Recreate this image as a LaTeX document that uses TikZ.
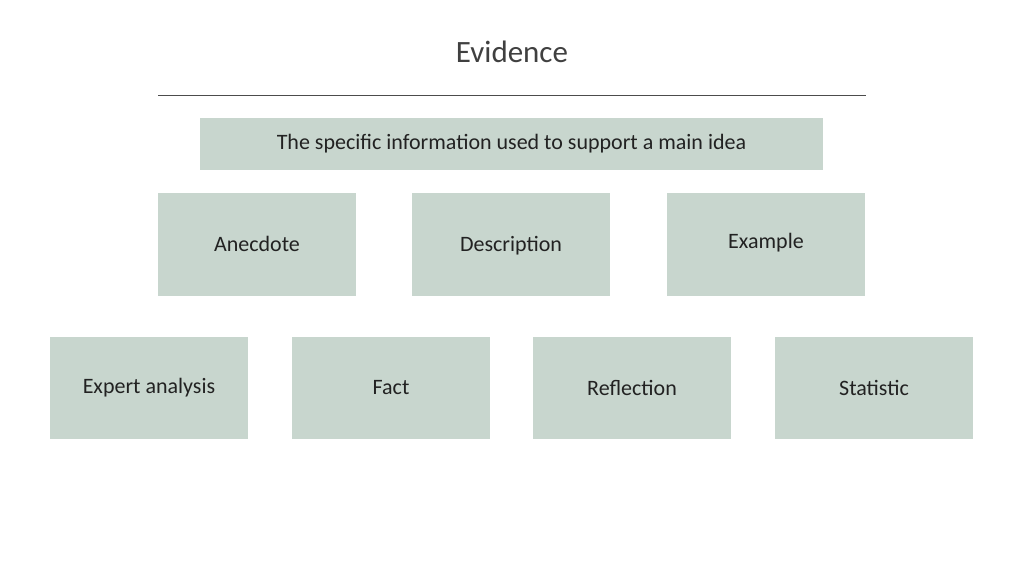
\documentclass[tikz,border=0pt]{standalone}
\usepackage{fontspec}
\setmainfont{Carlito}
\newfontfamily\titlefont{Open Sans Light}
\definecolor{boxc}{HTML}{C8D6CE}
\definecolor{txt}{HTML}{222222}
\begin{document}
\begin{tikzpicture}[x=1pt,y=-1pt,
  bx/.style={fill=boxc,draw=none,inner sep=0pt,text=txt,font=\fontsize{22}{26}\selectfont}]
\useasboundingbox (0,0) rectangle (1024,576);
\node[text=black!75,font=\fontsize{31}{36}\selectfont] (title) at (512,52) {Evidence};
\coordinate (la) at (158,95); \coordinate (lb) at (866,95);
\draw[black!70,line width=0.8pt] (la) -- (lb);
\node[bx,minimum width=623pt,minimum height=52pt] (def) at (511.5,144) {The specific information used to support a main idea};
\foreach \n/\x/\t/\dy in {a/257/Anecdote/-2,d/511/Description/0,e/766/Example/-3}{
  \node[bx,minimum width=198pt,minimum height=103pt] (\n) at (\x,244.5) {};
  \node[bx,fill=none] at (\x,246+\dy) {\t};
}
\foreach \n/\x/\t in {x/149/Expert analysis,f/391/Fact,r/632/Reflection,s/874/Statistic}{
  \node[bx,minimum width=198pt,minimum height=102pt] (\n) at (\x,388) {\t};
}
\end{tikzpicture}
\end{document}
